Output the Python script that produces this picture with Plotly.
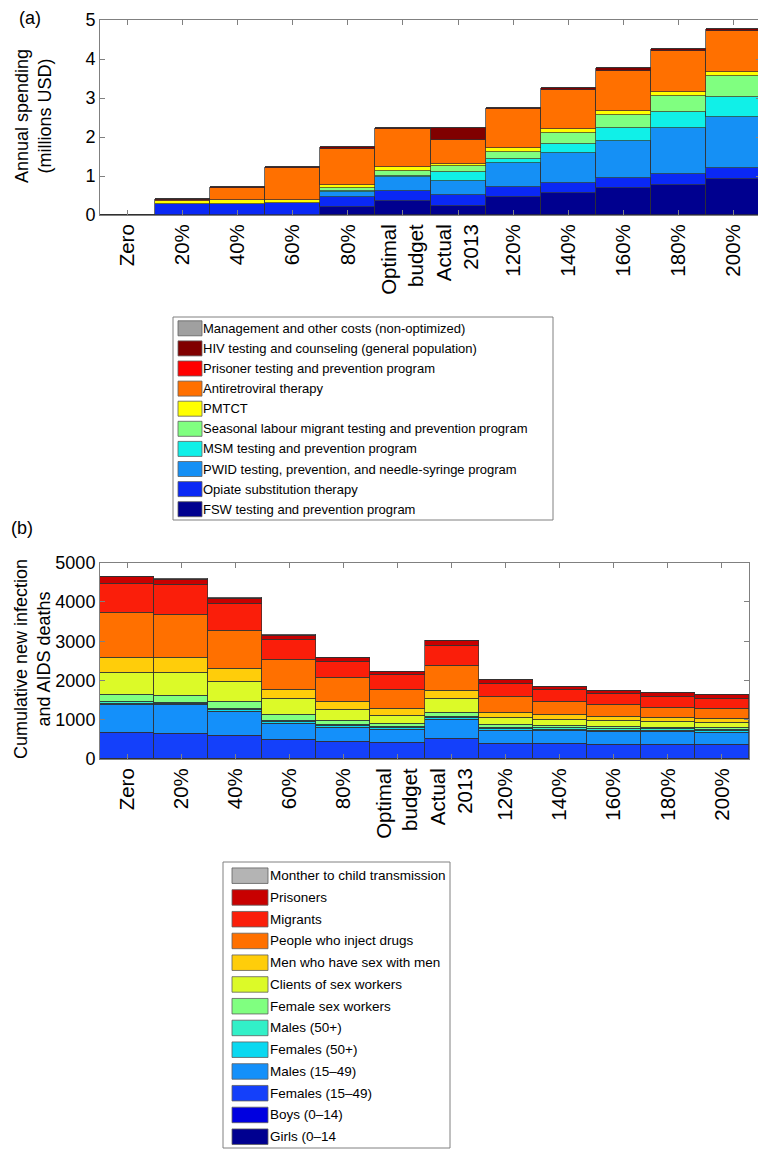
import plotly.graph_objects as go

# the page adds an 8px body margin, so the figure is sized to fill the rest of the window
OFF = 8
W, H = 766 - OFF, 1154 - OFF

# ---- data ----
scenarios = ["Zero", "20%", "40%", "60%", "80%", "Optimal<br>budget", "Actual<br>2013",
             "120%", "140%", "160%", "180%", "200%"]

# panel (a): annual spending, millions USD (bottom to top of the stack)
spend_names = ["FSW testing and prevention program",
               "Opiate substitution therapy",
               "PWID testing, prevention, and needle-syringe program",
               "MSM testing and prevention program",
               "Seasonal labour migrant testing and prevention program",
               "PMTCT",
               "Antiretroviral therapy",
               "Prisoner testing and prevention program",
               "HIV testing and counseling (general population)",
               "Management and other costs (non-optimized)"]
spend_fsw      = [0, 0.00, 0.00, 0.00, 0.21, 0.36, 0.24, 0.45, 0.56, 0.68, 0.77, 0.92]
spend_opiate   = [0, 0.27, 0.29, 0.30, 0.26, 0.26, 0.27, 0.28, 0.27, 0.28, 0.28, 0.29]
spend_pwid     = [0, 0.00, 0.00, 0.00, 0.12, 0.35, 0.37, 0.60, 0.77, 0.95, 1.17, 1.30]
spend_msm      = [0, 0.00, 0.00, 0.00, 0.03, 0.03, 0.21, 0.11, 0.22, 0.33, 0.43, 0.51]
spend_seasonal = [0, 0.00, 0.00, 0.00, 0.08, 0.14, 0.17, 0.17, 0.27, 0.32, 0.41, 0.54]
spend_pmtct    = [0, 0.08, 0.09, 0.08, 0.07, 0.10, 0.06, 0.10, 0.11, 0.11, 0.10, 0.10]
spend_art      = [0, 0.04, 0.31, 0.82, 0.92, 0.96, 0.60, 1.00, 1.01, 1.03, 1.05, 1.07]
spend_prisoner = [0, 0, 0, 0, 0, 0, 0, 0, 0, 0, 0, 0]
spend_hivtest  = [0, 0.02, 0.04, 0.04, 0.05, 0.04, 0.32, 0.04, 0.04, 0.06, 0.05, 0.04]
spend_mgmt     = [0, 0, 0, 0, 0, 0, 0, 0, 0, 0, 0, 0]
spend_colors = ["#00008f", "#0a28f5", "#1590f5", "#10f0e8", "#80ff80",
                "#ffff00", "#ff7000", "#ff0000", "#800000", "#a0a0a0"]

# panel (b): cumulative new infections and AIDS deaths (bottom to top)
pop_names = ["Girls (0\u201314", "Boys (0\u201314)", "Females (15\u201349)", "Males (15\u201349)",
             "Females (50+)", "Males (50+)", "Female sex workers", "Clients of sex workers",
             "Men who have sex with men", "People who inject drugs", "Migrants",
             "Prisoners", "Monther to child transmission"]
inf_girls     = [5, 5, 5, 5, 5, 5, 5, 5, 5, 5, 5, 5]
inf_boys      = [5, 5, 5, 5, 5, 5, 5, 5, 5, 5, 5, 5]
inf_fem1549   = [650, 643, 580, 473, 422, 405, 515, 388, 380, 367, 355, 346]
inf_male1549  = [735, 720, 625, 427, 374, 340, 484, 322, 326, 318, 325, 326]
inf_fem50     = [25, 27, 30, 35, 34, 35, 41, 40, 34, 35, 35, 33]
inf_male50    = [30, 30, 30, 30, 30, 30, 40, 30, 40, 40, 35, 35]
inf_fsw       = [177, 190, 182, 143, 110, 87, 96, 92, 49, 52, 40, 40]
inf_clients   = [576, 583, 518, 425, 283, 194, 339, 169, 170, 156, 153, 146]
inf_msm       = [382, 382, 330, 228, 194, 187, 212, 135, 127, 110, 89, 89]
inf_pwid      = [1134, 1093, 974, 746, 603, 483, 636, 398, 321, 285, 271, 255]
inf_migrants  = [747, 762, 678, 533, 420, 364, 525, 339, 297, 279, 271, 263]
inf_prisoners = [174, 136, 133, 102, 100, 84, 110, 85, 84, 85, 94, 84]
inf_mtct      = [15, 14, 10, 8, 8, 6, 7, 7, 7, 7, 7, 7]
pop_colors = ["#000090", "#0000e0", "#1440fa", "#1490fa", "#0ad8f0", "#32f0c8",
              "#80ff80", "#dcfa28", "#ffcd0a", "#ff7000", "#fa1e0a", "#c80000", "#b4b4b4"]

spend_series = [spend_fsw, spend_opiate, spend_pwid, spend_msm, spend_seasonal, spend_pmtct,
                spend_art, spend_prisoner, spend_hivtest, spend_mgmt]
pop_series = [inf_girls, inf_boys, inf_fem1549, inf_male1549, inf_fem50, inf_male50, inf_fsw,
              inf_clients, inf_msm, inf_pwid, inf_migrants, inf_prisoners, inf_mtct]


# window pixel -> paper coordinate
def px_x(p):
    return (p - OFF) / W


def px_y(p):
    return 1 - (p - OFF) / H


fig = go.Figure()
outline = dict(color="#303030", width=0.7)
for name, col, vals in zip(spend_names, spend_colors, spend_series):
    fig.add_trace(go.Bar(x=scenarios, y=vals, name=name, marker=dict(color=col, line=outline),
                         xaxis="x", yaxis="y", showlegend=False))
for name, col, vals in zip(pop_names, pop_colors, pop_series):
    fig.add_trace(go.Bar(x=scenarios, y=vals, name=name, marker=dict(color=col, line=outline),
                         xaxis="x2", yaxis="y2", showlegend=False))

axis_common = dict(showline=True, linecolor="#808080", linewidth=1, mirror="allticks",
                   ticks="inside", ticklen=5, tickcolor="#808080", showgrid=False,
                   zeroline=False, automargin=False)
xfont = dict(size=20.5, color="black")
yfont = dict(size=18, color="black")

fig.update_layout(
    width=W, height=H,
    margin=dict(l=0, r=0, t=0, b=0),
    paper_bgcolor="white", plot_bgcolor="white",
    font=dict(family="Liberation Sans, Arial, sans-serif", color="black"),
    barmode="stack", bargap=0,
    xaxis=dict(domain=[px_x(100), px_x(761)], anchor="y", tickangle=-90, tickfont=xfont,
               range=[-0.5, 11.5], **axis_common),
    yaxis=dict(domain=[px_y(215), px_y(20)], anchor="x", range=[0, 5], dtick=1,
               tickfont=yfont, **axis_common),
    xaxis2=dict(domain=[px_x(100), px_x(749)], anchor="y2", tickangle=-90, tickfont=xfont,
                range=[-0.5, 11.5], **axis_common),
    yaxis2=dict(domain=[px_y(759), px_y(562.7)], anchor="x2", range=[0, 5000], dtick=1000,
                tickfont=yfont, **axis_common),
)

# panel labels and y titles (kept just inside the page's margin)
notes = [
    dict(text="(a)", x=px_x(30), y=px_y(18), textangle=0),
    dict(text="(b)", x=px_x(22), y=px_y(528), textangle=0),
    dict(text="Annual spending<br>(millions USD)", x=px_x(34), y=px_y(116), textangle=-90),
    dict(text="Cumulative new infection<br>and AIDS deaths", x=px_x(32), y=px_y(659),
         textangle=-90),
]
for n in notes:
    fig.add_annotation(xref="paper", yref="paper", showarrow=False, xanchor="center",
                       yanchor="middle", font=dict(size=18, color="black"), **n)


# legend boxes drawn by hand so the swatches match the original's wide patches
def draw_legend(names, colors, box, sw_x, row0, step, sw_h, text_x, fsize):
    x0, y0, x1, y1 = box
    fig.add_shape(type="rect", xref="paper", yref="paper",
                  x0=px_x(x0), x1=px_x(x1), y0=px_y(y1), y1=px_y(y0),
                  line=dict(color="#808080", width=1), fillcolor="white")
    for i, (name, col) in enumerate(zip(names[::-1], colors[::-1])):
        cy = row0 + i * step
        fig.add_shape(type="rect", xref="paper", yref="paper",
                      x0=px_x(sw_x[0]), x1=px_x(sw_x[1]),
                      y0=px_y(cy + sw_h / 2), y1=px_y(cy - sw_h / 2),
                      line=dict(color="#606060", width=0.8), fillcolor=col)
        fig.add_annotation(xref="paper", yref="paper", x=px_x(text_x), y=px_y(cy),
                           text=name, showarrow=False, xanchor="left", yanchor="middle",
                           font=dict(size=fsize, color="black"))


draw_legend(spend_names, spend_colors, (173, 317, 553, 520), (178, 202), 328.3, 20.1, 15,
            201, 13)
draw_legend(pop_names, pop_colors, (223, 862, 450, 1148), (232, 268), 875.7, 21.75, 15.5,
            268, 13.5)

fig.write_html("out.html")
